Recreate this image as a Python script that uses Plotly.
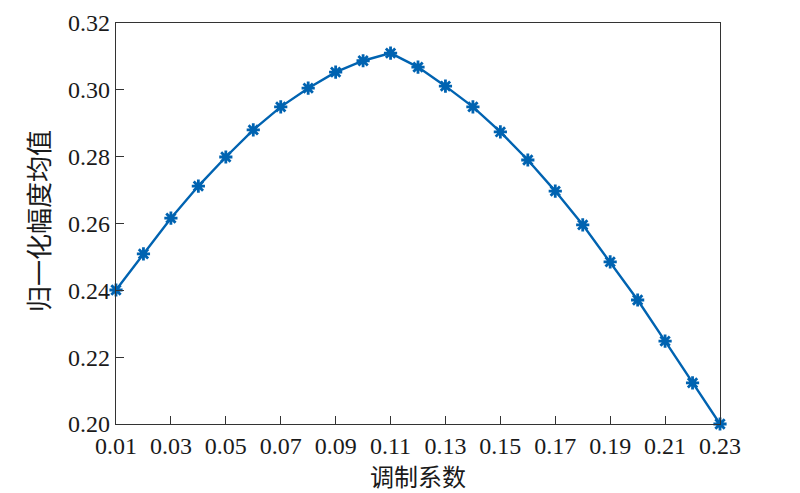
import plotly.graph_objects as go

x_vals = [0.01, 0.02, 0.03, 0.04, 0.05, 0.06, 0.07, 0.08, 0.09, 0.10, 0.11, 0.12,
          0.13, 0.14, 0.15, 0.16, 0.17, 0.18, 0.19, 0.20, 0.21, 0.22, 0.23]
y_vals = [0.2401, 0.2509, 0.2616, 0.2712, 0.2799, 0.2880, 0.2949, 0.3005, 0.3053,
          0.3087, 0.3110, 0.3068, 0.3011, 0.2949, 0.2874, 0.2790, 0.2697, 0.2596,
          0.2485, 0.2371, 0.2248, 0.2123, 0.2000]
x_ticks = [0.01, 0.03, 0.05, 0.07, 0.09, 0.11, 0.13, 0.15, 0.17, 0.19, 0.21, 0.23]
y_ticks = [0.20, 0.22, 0.24, 0.26, 0.28, 0.30, 0.32]
x_title = "调制系数"
y_title = "归一化幅度均值"

color = "#0063b1"
serif = "Liberation Serif, Times New Roman, serif"
cjk = "Noto Sans CJK SC"

# page body has an 8px margin; the figure is sized to fit the window
OFF = 8
W, H = 800 - OFF, 493 - OFF
L, T = 116 - OFF, 23 - OFF
pw, ph = 720 - 116, 424 - 23
R, B = W - L - pw, H - T - ph

fig = go.Figure()
fig.add_trace(go.Scatter(
    x=x_vals, y=y_vals, mode="lines+markers",
    line=dict(color=color, width=2.4),
    marker=dict(symbol="asterisk-open", size=11, color=color,
                line=dict(color=color, width=2.8)),
    cliponaxis=False,
))

fig.update_layout(
    width=W, height=H,
    margin=dict(l=L, r=R, t=T, b=B, autoexpand=False),
    paper_bgcolor="white", plot_bgcolor="white",
    showlegend=False,
    font=dict(family=serif, size=24, color="#1a1a1a"),
)
fig.update_xaxes(
    range=[0.01, 0.23], tickvals=x_ticks, ticktext=[f"{v:.2f}" for v in x_ticks],
    ticks="inside", ticklen=8, tickcolor="#333", tickwidth=1,
    showline=True, linecolor="#333", linewidth=1.3, mirror=True,
    showgrid=False, zeroline=False, automargin=False,
    tickfont=dict(family=serif, size=24),
)
fig.update_yaxes(
    range=[0.20, 0.32], tickvals=y_ticks, ticktext=[f"{v:.2f}" for v in y_ticks],
    ticks="inside", ticklen=8, tickcolor="#333", tickwidth=1,
    showline=True, linecolor="#333", linewidth=1.3, mirror=True,
    showgrid=False, zeroline=False, automargin=False,
    tickfont=dict(family=serif, size=24),
)
fig.add_annotation(
    text=y_title, textangle=-90, showarrow=False,
    xref="paper", yref="paper",
    x=(37 - 116) / pw, y=(424 - 221) / ph, xanchor="center", yanchor="middle",
    font=dict(family=cjk, size=26, color="#1a1a1a"),
)
fig.add_annotation(
    text=x_title, showarrow=False,
    xref="paper", yref="paper",
    x=0.5, y=-(475 - 424) / ph, xanchor="center", yanchor="middle",
    font=dict(family=cjk, size=24, color="#1a1a1a"),
)

fig.write_html("out.html")
